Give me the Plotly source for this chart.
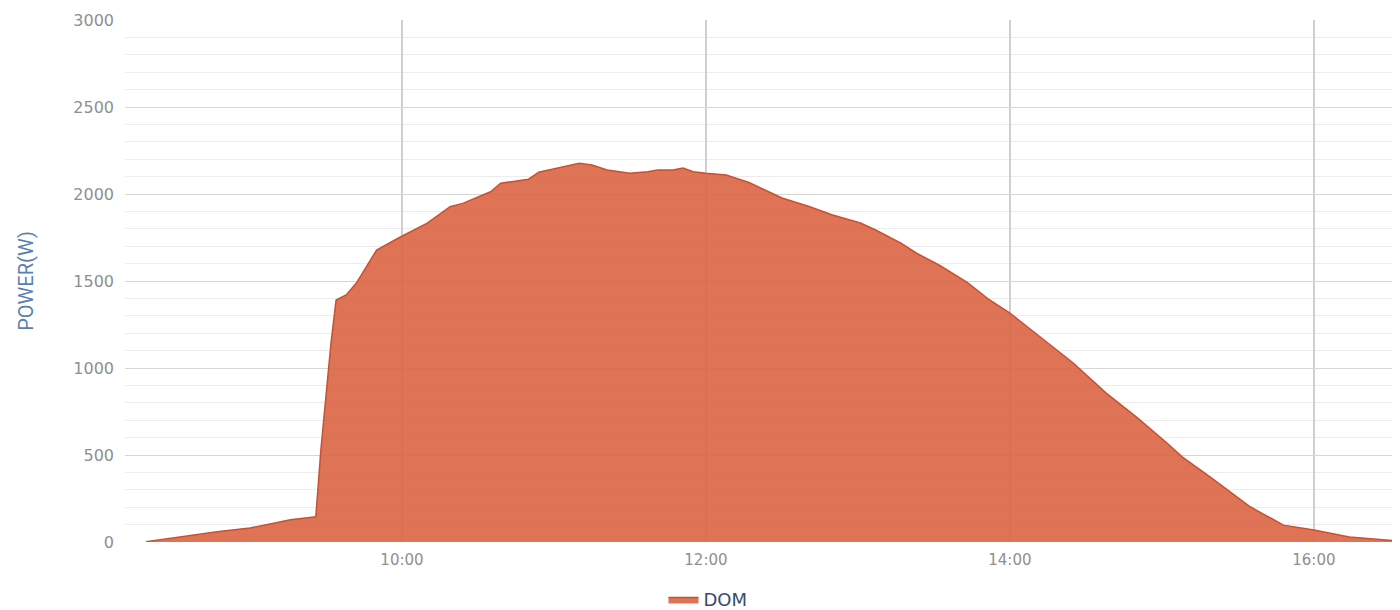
import plotly.graph_objects as go

DAY = "2023-06-01 "

times = ["08:19", "08:47", "09:00", "09:16", "09:26", "09:28", "09:32", "09:34",
         "09:38", "09:42", "09:50", "09:59", "10:10", "10:19", "10:24", "10:35",
         "10:39", "10:44", "10:50", "10:54", "11:02", "11:10", "11:15", "11:21",
         "11:30", "11:37", "11:41", "11:47", "11:51", "11:55", "12:00", "12:08",
         "12:17", "12:30", "12:41", "12:50", "13:01", "13:07", "13:17", "13:23",
         "13:32", "13:43", "13:52", "14:00", "14:12", "14:25", "14:38", "14:50",
         "15:02", "15:08", "15:19", "15:35", "15:48", "16:00", "16:14", "16:27",
         "16:34"]
power = [2, 59, 80, 128, 145, 530, 1144, 1391,
         1420, 1488, 1678, 1750, 1833, 1927, 1946, 2013,
         2062, 2071, 2085, 2125, 2152, 2176, 2167, 2138,
         2119, 2128, 2138, 2138, 2149, 2128, 2119, 2109,
         2066, 1977, 1927, 1879, 1833, 1793, 1718, 1661,
         1592, 1494, 1391, 1316, 1178, 1029, 856, 718,
         569, 489, 374, 201, 97, 69, 29, 11,
         5]

series_name = "DOM"
y_title = "POWER(W)"

x_vals = [DAY + t for t in times]

fig = go.Figure()
fig.add_trace(go.Scatter(
    x=x_vals, y=power, name=series_name, mode="lines",
    fill="tozeroy",
    fillcolor="rgba(220,100,66,0.9)",
    line=dict(color="rgb(196,82,52)", width=1.5),
))

fig.update_layout(
    width=1400, height=610,
    margin=dict(l=117, r=0, t=12, b=76),
    paper_bgcolor="white", plot_bgcolor="white",
    showlegend=True,
    legend=dict(orientation="h", xref="container", yref="container",
                x=0.5, xanchor="center", y=0.03, yanchor="middle",
                font=dict(family="DejaVu Sans", size=18, color="#3a4a6e")),
    xaxis=dict(
        type="date", automargin=False,
        range=[DAY + "08:10:40", DAY + "16:37:10"],
        tickformat="%H:%M",
        dtick=7200000, tick0=DAY + "00:00",
        showgrid=True, gridcolor="#cfcfcf", gridwidth=1.5,
        showline=False, zeroline=False,
        ticks="", ticklen=0, ticklabelstandoff=7,
        tickfont=dict(family="DejaVu Sans", size=15, color="#8f8f8f"),
    ),
    yaxis=dict(
        range=[0, 3000], automargin=False,
        dtick=500, tick0=0,
        showgrid=True, gridcolor="#d6d6d6", gridwidth=1,
        minor=dict(dtick=100, showgrid=True, gridcolor="#ececec", gridwidth=1),
        zeroline=False, showline=False,
        ticks="", ticklabelstandoff=10,
        tickfont=dict(family="DejaVu Sans", size=16, color="#8f8f8f"),
        title=dict(text=y_title, standoff=34,
                   font=dict(family="Roboto", size=20, color="#5a7fae")),
    ),
)

fig.write_html("out.html")
